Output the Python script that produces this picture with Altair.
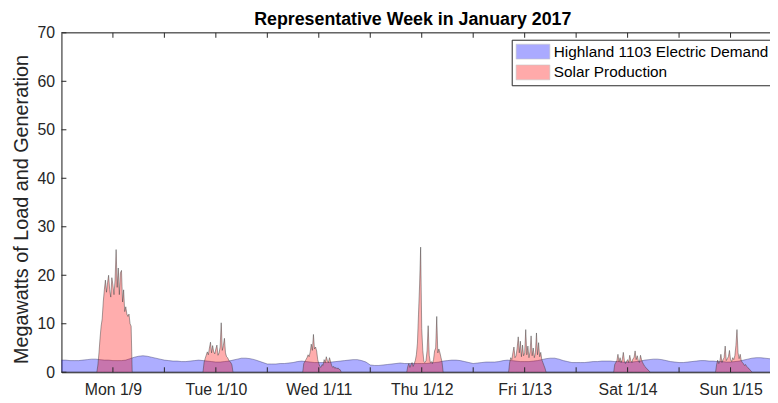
import altair as alt
import pandas as pd

# ---------------- data ----------------
day_labels = ["Mon 1/9", "Tue 1/10", "Wed 1/11", "Thu 1/12", "Fri 1/13", "Sat 1/14", "Sun 1/15"]
x_ticks = [12, 24, 36, 48, 60, 72, 84, 96, 108, 120, 132, 144, 156]
y_ticks = [0, 10, 20, 30, 40, 50, 60, 70]
series_names = ["Highland 1103 Electric Demand", "Solar Production"]

# hourly demand (MW), hour 0 = Mon 1/9 00:00
demand_mw = [
    2.5, 2.5, 2.4, 2.4, 2.4, 2.5, 2.6, 2.7, 2.7, 2.6, 2.5, 2.5, 2.4, 2.4, 2.4, 2.5, 2.8, 3.1, 3.3, 3.4, 3.3, 3.1, 2.9, 2.7,
    2.5, 2.4, 2.3, 2.3, 2.2, 2.2, 2.3, 2.4, 2.5, 2.4, 2.3, 2.2, 2.1, 2.1, 2.2, 2.3, 2.5, 2.7, 2.9, 2.9, 2.8, 2.6, 2.3, 2.0,
    1.7, 1.7, 1.7, 1.8, 1.8, 1.9, 2.0, 2.2, 2.3, 2.2, 2.1, 2.0, 2.0, 2.0, 2.0, 2.1, 2.2, 2.3, 2.4, 2.5, 2.6, 2.6, 2.4, 2.1,
    1.5, 1.4, 1.4, 1.5, 1.6, 1.7, 1.8, 1.9, 1.8, 1.8, 1.8, 1.8, 1.8, 1.8, 1.9, 2.0, 2.1, 2.3, 2.4, 2.5, 2.5, 2.4, 2.2, 2.0,
    1.8, 1.9, 2.0, 2.1, 2.1, 2.1, 2.2, 2.4, 2.5, 2.4, 2.3, 2.2, 2.2, 2.2, 2.3, 2.4, 2.6, 2.8, 2.9, 2.9, 2.7, 2.4, 2.2, 2.0,
    2.0, 2.0, 2.0, 2.1, 2.2, 2.2, 2.3, 2.3, 2.3, 2.2, 2.2, 2.1, 2.1, 2.1, 2.2, 2.3, 2.5, 2.6, 2.7, 2.7, 2.6, 2.4, 2.2, 2.1,
    2.0, 2.0, 2.1, 2.2, 2.3, 2.4, 2.4, 2.3, 2.3, 2.2, 2.2, 2.1, 2.1, 2.2, 2.3, 2.5, 2.7, 2.9, 3.0, 3.0, 2.9, 2.8, 2.7,
]

# solar production (MW), 15-minute samples; each day: start hour
solar_mon_start = 8.25
solar_mon = [0, 1.5, 4, 7, 9.5, 11, 14.5, 17, 19, 16.5, 18.5, 20, 17, 15.5, 19.5, 18, 16, 19, 25.3, 17.5,
             21.5, 16, 20.5, 21, 14.5, 17, 12.5, 13.5, 12, 11.5, 12, 10, 9.5, 0]
solar_tue_start = 33.0
solar_tue = [0, 2.0, 2.8, 3.5, 4.2, 3.6, 5.0, 6.2, 4.0, 5.5, 4.2, 3.8, 4.8, 5.6, 3.5, 4.0, 5.2, 10.2, 4.5,
             5.5, 7.0, 4.0, 3.2, 3.0, 2.5, 2.2, 2.0, 1.5, 0]
solar_wed_start = 56.25
solar_wed = [0, 1.8, 2.2, 2.6, 3.0, 3.6, 3.2, 4.2, 5.8, 4.5, 7.8, 4.8, 5.2, 4.4, 2.6, 1.8, 1.2, 1.0, 1.6, 1.4,
             2.6, 2.0, 3.2, 2.4, 2.0, 3.0, 2.2, 1.4, 1.0, 1.2, 0.8, 1.0, 0.7, 0.9, 0.6, 0.5, 0]
solar_thu_start = 80.5
solar_thu = [0, 1.2, 1.8, 1.0, 1.6, 2.0, 1.2, 1.8, 2.4, 3.6, 6.0, 12.0, 18.0, 25.8, 9.0, 4.5, 2.2, 2.0, 2.4,
             4.5, 9.6, 3.5, 2.0, 2.2, 1.8, 2.6, 4.4, 5.0, 11.5, 4.0, 4.8, 4.0, 3.0, 2.0, 0]
solar_fri_start = 104.25
solar_fri = [0, 2.0, 3.0, 2.6, 4.0, 5.2, 3.0, 3.4, 5.0, 7.3, 4.0, 6.4, 3.2, 5.6, 3.4, 4.0, 8.8, 3.6, 5.4, 3.0,
             4.2, 7.5, 3.4, 5.0, 3.0, 4.0, 8.1, 3.6, 6.1, 3.2, 4.1, 2.6, 2.0, 1.4, 0.8, 0]
solar_sat_start = 128.75
solar_sat = [0, 1.6, 2.0, 2.4, 3.7, 2.2, 3.0, 2.0, 2.6, 4.1, 2.4, 1.8, 2.2, 2.6, 2.0, 3.5, 2.4, 2.0, 2.8, 3.0,
             4.4, 2.6, 3.4, 2.4, 2.0, 3.5, 2.6, 2.0, 1.6, 1.2, 1.0, 0.7, 0.5, 0.3, 0]
solar_sun_start = 152.5
solar_sun = [0, 1.6, 2.5, 1.8, 2.2, 3.7, 2.0, 2.6, 3.0, 5.4, 2.4, 2.8, 3.2, 4.5, 2.6, 2.2, 3.0, 2.6, 3.4, 5.5,
             8.8, 4.0, 2.8, 3.7, 2.4, 2.0, 1.8, 1.4, 1.6, 1.2, 1.0, 0.8, 0.5, 0.3, 0]

# ---------------- tables ----------------
demand_df = pd.DataFrame({
    "h": list(range(len(demand_mw))),
    "mw": demand_mw,
    "series": series_names[0],
})

solar_rows = [(0.0, 0.0)]
for start, vals in [(solar_mon_start, solar_mon), (solar_tue_start, solar_tue), (solar_wed_start, solar_wed),
                    (solar_thu_start, solar_thu), (solar_fri_start, solar_fri), (solar_sat_start, solar_sat),
                    (solar_sun_start, solar_sun)]:
    for i, v in enumerate(vals):
        solar_rows.append((start + 0.25 * i, v))
solar_rows.append((166.0, 0.0))
solar_df = pd.DataFrame(solar_rows, columns=["h", "mw"])
solar_df["series"] = series_names[1]

# ---------------- chart ----------------
W, H = 716, 343
XMAX = 165.2
FONT = "Liberation Sans"
AX = "#262626"

label_expr = "datum.value % 24 == 12 ? [" + ",".join("'" + d + "'" for d in day_labels) + "][floor(datum.value / 24)] : ''"

x_scale = alt.Scale(domain=[0, XMAX], nice=False, zero=False)
y_scale = alt.Scale(domain=[0, 70], nice=False)
color_scale = alt.Scale(domain=series_names, range=["#0000ff", "#ff0000"])

x_axis = alt.Axis(values=x_ticks, labelExpr=label_expr, title=None, tickSize=0, grid=False,
                  labelFontSize=16, labelFont=FONT, labelColor=AX, labelPadding=9,
                  domainColor=AX, domainWidth=1, labelFlush=False, labelOverlap=False)
y_axis = alt.Axis(values=y_ticks, title="Megawatts of Load and Generation", tickSize=0, grid=False,
                  labelFontSize=16, labelFont=FONT, labelColor=AX, labelPadding=7,
                  titleFontSize=20, titleFont=FONT, titleColor=AX, titleFontWeight="normal",
                  titlePadding=5, titleY=178, domainColor=AX, domainWidth=1)

legend = alt.Legend(title=None, orient="none", legendX=455, legendY=7, direction="vertical",
                    labelFontSize=15.5, labelFont=FONT, labelColor="#000000", labelLimit=0,
                    labelOffset=13, symbolOffset=9.5,
                    symbolType="M-2.27,-1L2.27,-1L2.27,1L-2.27,1Z", symbolSize=225,
                    symbolOpacity=0.33, symbolStrokeColor="#555555", symbolStrokeWidth=0.6,
                    strokeColor=AX, fillColor="white", padding=4, rowPadding=3, cornerRadius=0)

demand = alt.Chart(demand_df).mark_area(
    fillOpacity=0.32, stroke="#333366", strokeWidth=0.6, strokeOpacity=0.7, clip=True
).encode(
    x=alt.X("h:Q", scale=x_scale, axis=x_axis),
    y=alt.Y("mw:Q", scale=y_scale, axis=y_axis),
    color=alt.Color("series:N", scale=color_scale, legend=legend),
)

solar = alt.Chart(solar_df).mark_area(
    fillOpacity=0.32, stroke="#333333", strokeWidth=0.6, strokeOpacity=0.75, clip=True
).encode(
    x=alt.X("h:Q", scale=x_scale),
    y=alt.Y("mw:Q", scale=y_scale),
    color=alt.Color("series:N", scale=color_scale, legend=legend),
)

xt_df = pd.DataFrame({"h": x_ticks})
yt_df = pd.DataFrame({"v": y_ticks})

bottom_ticks = alt.Chart(xt_df).mark_rule(color=AX, strokeWidth=1).encode(
    x=alt.X("h:Q", scale=x_scale), y=alt.value(H - 5), y2=alt.value(H))
top_ticks = alt.Chart(xt_df).mark_rule(color=AX, strokeWidth=1).encode(
    x=alt.X("h:Q", scale=x_scale), y=alt.value(0), y2=alt.value(5))
left_ticks = alt.Chart(yt_df).mark_rule(color=AX, strokeWidth=1).encode(
    y=alt.Y("v:Q", scale=y_scale), x=alt.value(0), x2=alt.value(5))
top_border = alt.Chart(pd.DataFrame({"a": [0]})).mark_rule(color=AX, strokeWidth=1).encode(
    x=alt.value(0), x2=alt.value(W), y=alt.value(0))

chart = alt.layer(demand, solar, bottom_ticks, top_ticks, left_ticks, top_border).properties(
    width=W, height=H,
    title=alt.TitleParams("Representative Week in January 2017", fontSize=18, fontWeight="bold",
                          font=FONT, color="#000000", anchor="middle", dx=-3, dy=10, offset=6),
    autosize=alt.AutoSizeParams(type="none"),
    padding={"left": 54, "top": 23, "right": 0, "bottom": 28},
).configure_view(stroke=None).configure(background="white")

chart.save("out.html", embed_options={"renderer": "svg", "actions": False})
